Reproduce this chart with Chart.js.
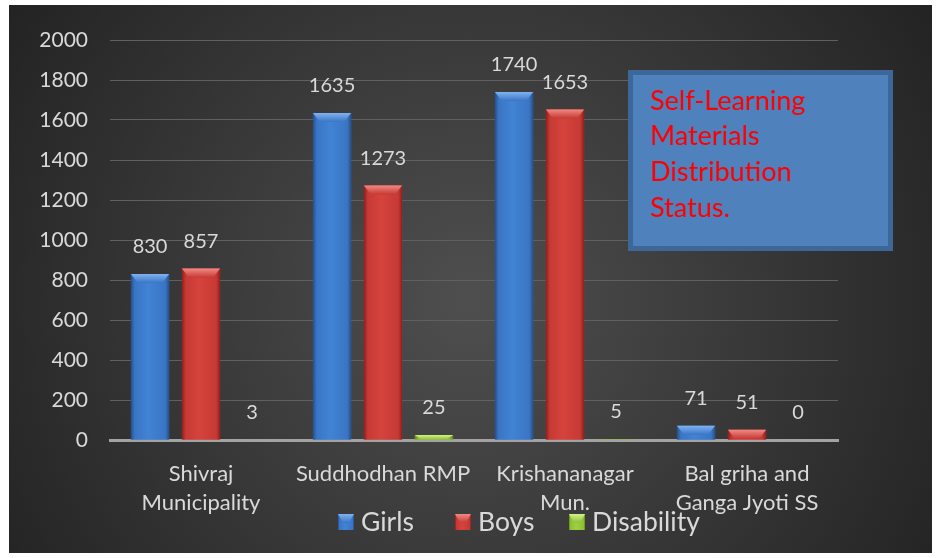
<!DOCTYPE html>
<html>
<head>
<meta charset="utf-8">
<script src="https://cdn.jsdelivr.net/npm/chart.js@4"></script>
<style>
  html, body { margin: 0; padding: 0; background: #fff; }
  #wrap { width: 938px; height: 558px; }
</style>
</head>
<body>
<div id="wrap"><canvas id="slm-chart"></canvas></div>
<script>
// data
const categories = [['Shivraj', 'Municipality'], 'Suddhodhan RMP', ['Krishananagar', 'Mun.'], ['Bal griha and', 'Ganga Jyoti SS']];
const girls = [830, 1635, 1740, 71];
const boys = [857, 1273, 1653, 51];
const disability = [3, 25, 5, 0];
const seriesNames = ['Girls', 'Boys', 'Disability'];
const yMax = 2000;
const yStep = 200;
const boxLines = ['Self-Learning', 'Materials', 'Distribution', 'Status.'];

const palette = [
  { dark: '#24508c', mid: '#3a75c4', light: '#4183d4', top: '#7fb2f0' },
  { dark: '#8e1f1c', mid: '#c63934', light: '#d6433d', top: '#f08a84' },
  { dark: '#62881f', mid: '#8fbf36', light: '#9fd042', top: '#d2f28a' }
];

Chart.defaults.font.family = 'Lato, "Open Sans", sans-serif';
Chart.defaults.color = '#d9d9d9';

function drawBevelBar(ctx, l, top, w, h, c) {
  const r = l + w;
  const g = ctx.createLinearGradient(l, 0, r, 0);
  g.addColorStop(0, c.dark);
  g.addColorStop(0.1, c.mid);
  g.addColorStop(0.45, c.light);
  g.addColorStop(0.9, c.mid);
  g.addColorStop(1, c.dark);
  ctx.fillStyle = g;
  ctx.fillRect(l, top, w, h);
  const b = Math.min(9, h);
  const tg = ctx.createLinearGradient(0, top, 0, top + b);
  tg.addColorStop(0, c.top);
  tg.addColorStop(1, c.mid);
  ctx.fillStyle = tg;
  ctx.beginPath();
  ctx.moveTo(l, top);
  ctx.lineTo(r, top);
  ctx.lineTo(r - Math.min(7, w / 3), top + b);
  ctx.lineTo(l + Math.min(7, w / 3), top + b);
  ctx.closePath();
  ctx.fill();
}

const backdrop = {
  id: 'backdrop',
  beforeDraw(chart) {
    const ctx = chart.ctx;
    ctx.save();
    ctx.fillStyle = '#fff';
    ctx.fillRect(0, 0, chart.width, chart.height);
    const g = ctx.createRadialGradient(470, 300, 10, 470, 300, 560);
    g.addColorStop(0, '#4e4e4e');
    g.addColorStop(1, '#222222');
    ctx.fillStyle = g;
    ctx.fillRect(9, 5, 923, 548);
    ctx.restore();
  }
};

const bevelBars = {
  id: 'bevelBars',
  afterDatasetsDraw(chart) {
    const ctx = chart.ctx;
    ctx.save();
    chart.data.datasets.forEach((ds, i) => {
      chart.getDatasetMeta(i).data.forEach((el, j) => {
        const p = el.getProps(['x', 'y', 'base', 'width'], true);
        const h = p.base - p.y;
        if (h >= 1) drawBevelBar(ctx, p.x - p.width / 2, p.y, p.width, h, palette[i]);
        ctx.fillStyle = '#d9d9d9';
        ctx.font = '20px Lato, sans-serif';
        ctx.textAlign = 'center';
        ctx.textBaseline = 'middle';
        ctx.fillText(String(ds.data[j]), p.x, p.y - 27);
      });
    });
    ctx.restore();
  }
};

const extras = {
  id: 'extras',
  afterDraw(chart) {
    const ctx = chart.ctx;
    ctx.save();
    // legend
    const items = [338, 455, 569];
    chart.data.datasets.forEach((ds, i) => {
      const x = items[i], y = 514;
      drawBevelBar(ctx, x, y, 16, 16, palette[i]);
      ctx.fillStyle = '#d9d9d9';
      ctx.font = '26.5px Lato, sans-serif';
      ctx.textAlign = 'left';
      ctx.textBaseline = 'middle';
      ctx.fillText(ds.label, x + 23, 522);
    });
    // text box
    ctx.fillStyle = '#4f81bd';
    ctx.fillRect(628, 70, 265, 181);
    ctx.strokeStyle = '#3d6699';
    ctx.lineWidth = 5;
    ctx.strokeRect(630.5, 72.5, 260, 176);
    ctx.fillStyle = '#ff0000';
    ctx.font = '27px Lato, sans-serif';
    ctx.textAlign = 'left';
    ctx.textBaseline = 'middle';
    boxLines.forEach((t, k) => ctx.fillText(t, 650, 101 + k * 35.7));
    ctx.restore();
  }
};

new Chart(document.getElementById('slm-chart'), {
  type: 'bar',
  data: {
    labels: categories,
    datasets: [
      { label: seriesNames[0], data: girls, backgroundColor: palette[0].mid },
      { label: seriesNames[1], data: boys, backgroundColor: palette[1].mid },
      { label: seriesNames[2], data: disability, backgroundColor: palette[2].mid }
    ]
  },
  options: {
    responsive: true,
    maintainAspectRatio: false,
    devicePixelRatio: 1,
    animation: false,
    categoryPercentage: 0.84,
    barPercentage: 0.75,
    layout: { padding: { left: 20, right: 100, top: 40, bottom: 0 } },
    plugins: {
      legend: { display: false },
      tooltip: { enabled: false }
    },
    scales: {
      x: {
        afterFit(scale) { scale.height = 118; },
        grid: { display: false },
        border: { display: true, color: '#a3a3a3', width: 3 },
        ticks: {
          padding: 11,
          color: '#d9d9d9',
          font: { size: 22, lineHeight: '29px' },
          maxRotation: 0
        }
      },
      y: {
        min: 0,
        max: yMax,
        afterFit(scale) { scale.width = 90; },
        border: { display: false },
        grid: { color: '#606060', lineWidth: 1, drawTicks: false },
        ticks: {
          stepSize: yStep,
          padding: 22,
          color: '#d9d9d9',
          font: { size: 21 },
          callback: (v) => String(v)
        }
      }
    }
  },
  plugins: [backdrop, bevelBars, extras]
});
</script>
</body>
</html>
